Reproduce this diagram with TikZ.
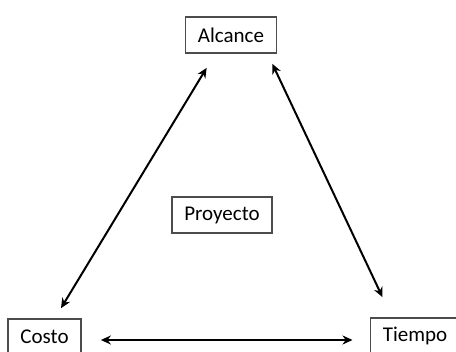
\documentclass[tikz,border=0pt]{standalone}
\usepackage{fontspec}
\setmainfont{Carlito}
\usetikzlibrary{arrows.meta}
\begin{document}
\begin{tikzpicture}[x=1pt,y=-1pt,
        box/.style={draw=black!70, line width=1.6pt, fill=white, minimum height=36pt,
            inner xsep=12.5pt, font=\fontsize{21}{24}\selectfont},
        link/.style={line width=2pt, {Stealth[length=10pt,width=9pt]}-{Stealth[length=10pt,width=9pt]}}]
        \clip (0,0) rectangle (456,352);
        \fill[white] (0,0) rectangle (456,352);

        \node[box] (alcance) at (231, 35) {Alcance};
        \node[box] (proyecto) at (222, 215) {Proyecto};
        \node[box] (costo) at (44.5, 337) {Costo};
        \node[box] (tiempo) at (415, 336) {Tiempo};

        \draw[link] ([shift={(22,14)}]alcance.south west) -- ([shift={(16.5,-10)}]costo.north);
        \draw[link] ([shift={(-5,10)}]alcance.south east) -- ([shift={(13,-20)}]tiempo.north west);
        \draw[link] ([shift={(19,3)}]costo.east) -- ([shift={(-17,4)}]tiempo.west);

    \end{tikzpicture}
\end{document}
